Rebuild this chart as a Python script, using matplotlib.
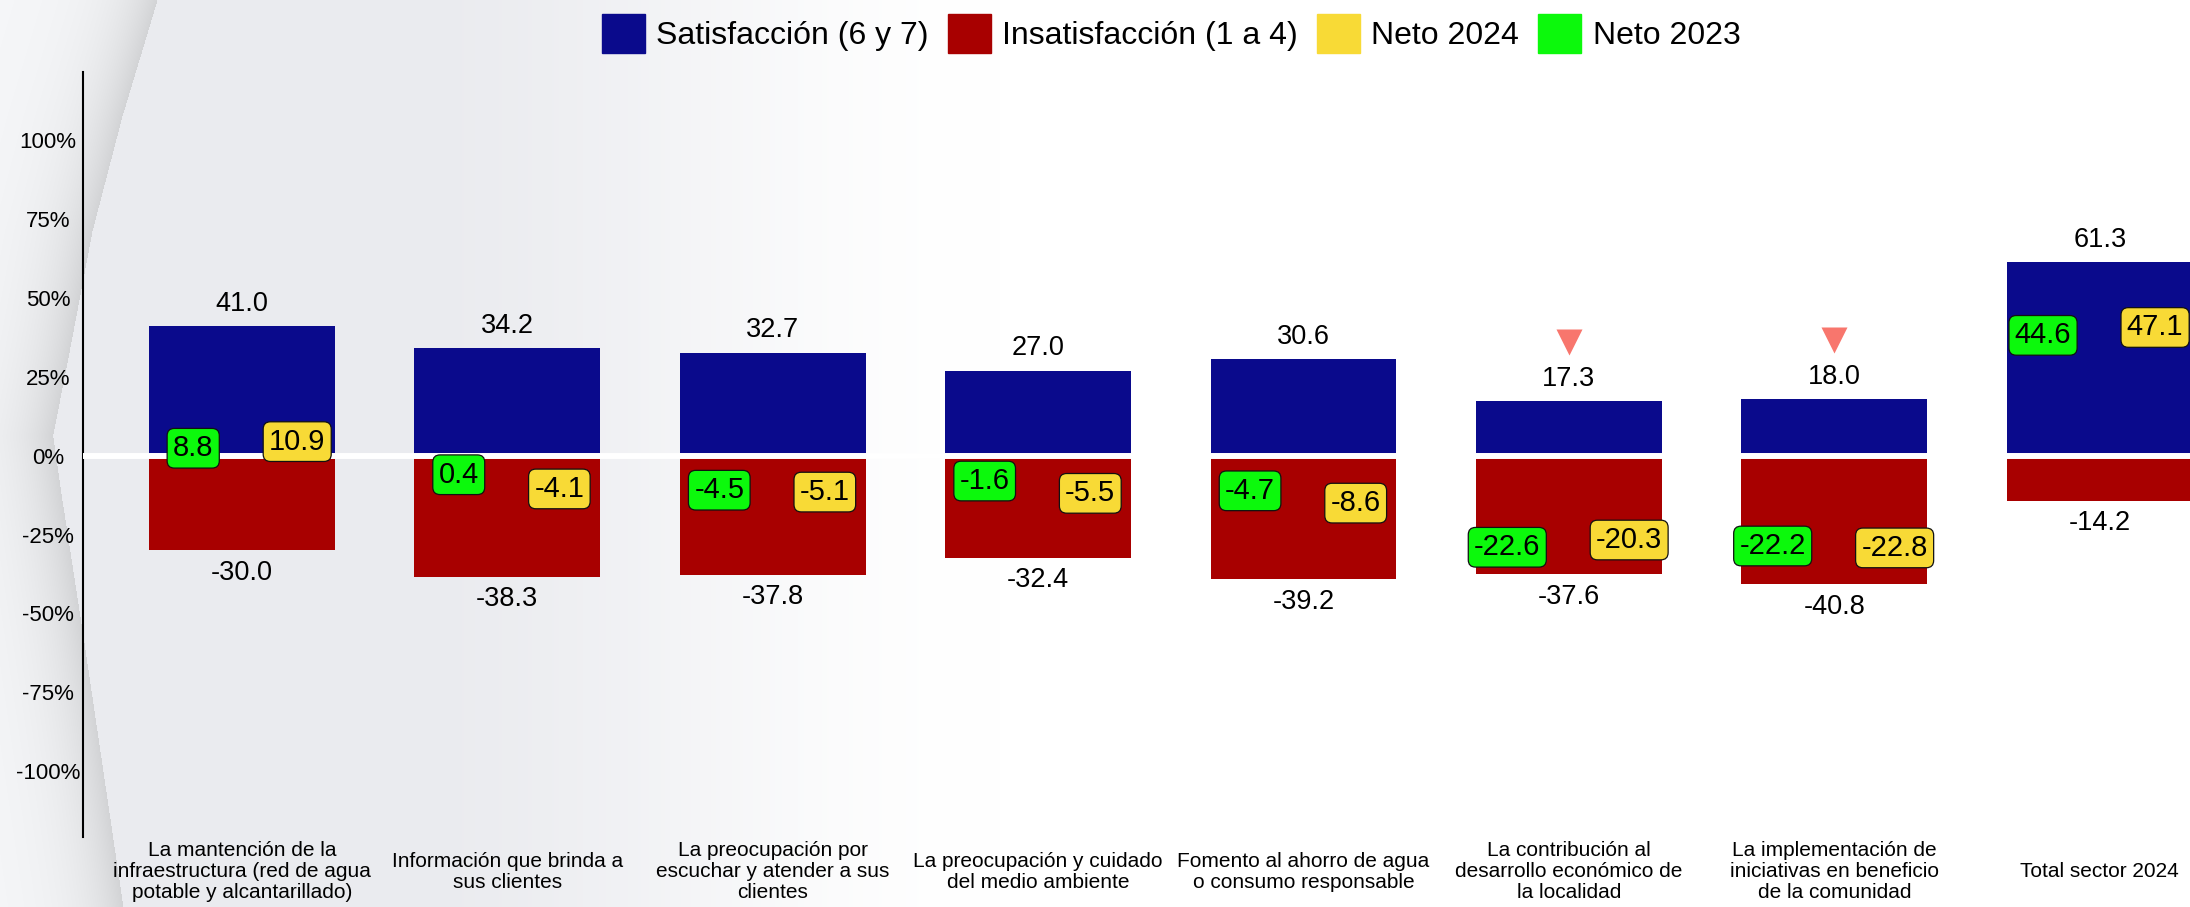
import numpy as np
import matplotlib
matplotlib.use("Agg")
import matplotlib.pyplot as plt
from matplotlib.patches import Patch
from matplotlib.transforms import offset_copy

plt.rcParams["font.family"] = ["Liberation Sans", "DejaVu Sans"]

# data
categories = [
    "La mantención de la\ninfraestructura (red de agua\npotable y alcantarillado)",
    "Información que brinda a\nsus clientes",
    "La preocupación por\nescuchar y atender a sus\nclientes",
    "La preocupación y cuidado\ndel medio ambiente",
    "Fomento al ahorro de agua\no consumo responsable",
    "La contribución al\ndesarrollo económico de\nla localidad",
    "La implementación de\niniciativas en beneficio\nde la comunidad",
    "Total sector 2024",
]
satisfaccion = [41.0, 34.2, 32.7, 27.0, 30.6, 17.3, 18.0, 61.3]
insatisfaccion = [-30.0, -38.3, -37.8, -32.4, -39.2, -37.6, -40.8, -14.2]
neto_2024 = [10.9, -4.1, -5.1, -5.5, -8.6, -20.3, -22.8, 47.1]
neto_2023 = [8.8, 0.4, -4.5, -1.6, -4.7, -22.6, -22.2, 44.6]
baja = [False, False, False, False, False, True, True, False]
yticks = [-100, -75, -50, -25, 0, 25, 50, 75, 100]

BLUE = "#0A0A8C"
RED = "#A80000"
YELLOW = "#F8DA36"
GREEN = "#0CF90C"
SALMON = "#F8766D"

W, H = 2190, 907
fig = plt.figure(figsize=(W / 100, H / 100), dpi=100)

# background: grey fading to white, with a light swoosh on the left
X, Y = np.meshgrid(np.arange(W), np.arange(H))
t = np.clip((X - 380) / 620.0, 0, 1)
t = t * t * (3 - 2 * t)
grey = np.array([234, 235, 239]) / 255
bg = grey * (1 - t)[..., None] + t[..., None]
xA = np.interp(Y, [0, 116, 231, 347, 500, 620, 907], [157, 122, 92, 70, 40, 0, -50])
xB = np.interp(Y, [0, 202, 347, 500, 636, 907], [-60, 0, 40, 62, 83, 123])
d = np.maximum(xA - X, xB - X)
light = np.array([246, 247, 249]) / 255
shade = np.exp(-np.clip(d, 0, None) / 40.0)
inner = light - shade[..., None] * 0.14
bg = np.where((d > 0)[..., None], inner, bg)
bg_ax = fig.add_axes([0, 0, 1, 1], zorder=-1)
bg_ax.imshow(bg, aspect="auto")
bg_ax.axis("off")

ax = fig.add_axes([0.03776, 0.07718, 0.96224, 0.84311])
ax.patch.set_alpha(0)
x = np.arange(len(categories))

ax.bar(x, satisfaccion, width=0.7, color=BLUE, zorder=2)
ax.bar(x, insatisfaccion, width=0.7, color=RED, zorder=2)
ax.axhline(0, color="white", lw=4.3, zorder=3)

box = "round,pad=0.2,rounding_size=0.25"
for i in range(len(x)):
    ax.annotate(f"{satisfaccion[i]:.1f}", (x[i], satisfaccion[i]), xytext=(0, 16),
                textcoords="offset points", ha="center", va="center", fontsize=19.5)
    ax.annotate(f"{insatisfaccion[i]:.1f}", (x[i], insatisfaccion[i]), xytext=(0, -16),
                textcoords="offset points", ha="center", va="center", fontsize=19.5)
    ax.annotate(f"{neto_2023[i]:.1f}", (x[i], neto_2023[i]), xytext=(-20.5, -4.5),
                textcoords="offset points", ha="right", va="top", fontsize=21, zorder=5,
                bbox=dict(boxstyle=box, fc=GREEN, ec="#111111", lw=0.9))
    ax.annotate(f"{neto_2024[i]:.1f}", (x[i], neto_2024[i]), xytext=(19.5, -4.5),
                textcoords="offset points", ha="left", va="top", fontsize=21, zorder=5,
                bbox=dict(boxstyle=box, fc=YELLOW, ec="#111111", lw=0.9))

tri = offset_copy(ax.transData, fig=fig, y=42.5, units="points")
xb = [x[i] for i in range(len(x)) if baja[i]]
yb = [satisfaccion[i] for i in range(len(x)) if baja[i]]
ax.plot(xb, yb, "v", transform=tri, ms=18.5, color=SALMON, mec="none", zorder=4)

ax.set_xlim(-0.6, 7.34)
ax.set_ylim(-120.9, 121.6)
ax.set_yticks(yticks, [f"{v}%" for v in yticks])
ax.tick_params(axis="y", length=0, pad=25, labelsize=16)
for lab in ax.get_yticklabels():
    lab.set_horizontalalignment("center")
ax.set_xticks(x, categories)
ax.tick_params(axis="x", length=0, pad=25, labelsize=15)
for lab in ax.get_xticklabels():
    lab.set_verticalalignment("center")
    lab.set_linespacing(1.15)
for s in ["top", "right", "bottom"]:
    ax.spines[s].set_visible(False)
ax.spines["left"].set_linewidth(1.5)
ax.spines["left"].set_color("black")

handles = [Patch(color=BLUE), Patch(color=RED), Patch(color=YELLOW), Patch(color=GREEN)]
labels = ["Satisfacción (6 y 7)", "Insatisfacción (1 a 4)", "Neto 2024", "Neto 2023"]
fig.legend(handles, labels, loc="center", bbox_to_anchor=(0.5347, 0.9636), ncol=4,
           frameon=False, fontsize=23, handlelength=1.35, handleheight=1.5,
           handletextpad=0.35, columnspacing=0.6)

fig.savefig("out.png", dpi=100)
